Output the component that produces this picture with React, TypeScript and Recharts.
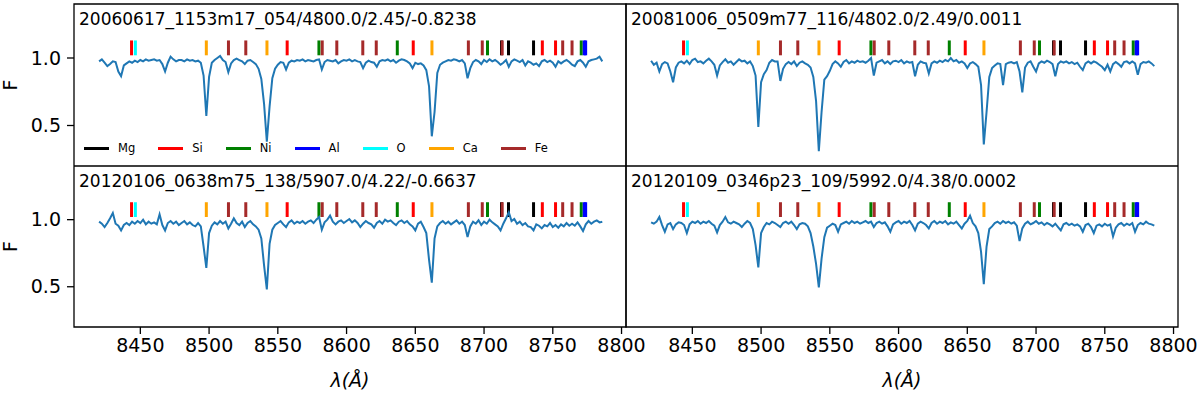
import React from 'react';
import { LineChart, Line, XAxis, YAxis, ReferenceLine, ReferenceArea, Legend, Label } from 'recharts';

// spectra are sampled on a regular grid: 8420 ... 8786 Å, 2 Å step
const waveStart = 8420;
const waveStep = 2;

// 20060617_1153m17_054
const fluxTopLeft = [
  0.975, 0.99, 0.965, 0.94, 0.955, 0.975, 0.97, 0.9, 0.865, 0.945,
  0.96, 0.975, 0.965, 0.98, 0.97, 0.985, 0.975, 0.99, 0.98, 0.985,
  0.99, 0.98, 0.985, 0.955, 0.9, 0.965, 1.01, 0.99, 0.975, 0.985,
  0.985, 0.975, 0.99, 0.98, 0.985, 0.975, 0.98, 0.965, 0.87, 0.57,
  0.86, 0.965, 0.985, 1.0, 1.015, 0.985, 0.97, 0.895, 0.96, 0.985,
  0.995, 0.985, 0.975, 0.955, 0.98, 0.985, 0.97, 0.955, 0.92, 0.845,
  0.66, 0.38, 0.64, 0.85, 0.92, 0.95, 0.97, 0.965, 0.915, 0.965,
  0.98, 0.975, 0.985, 0.98, 0.99, 0.975, 0.985, 0.98, 0.975, 0.985,
  0.99, 0.915, 0.97, 0.985, 0.98, 0.975, 0.985, 0.96, 0.975, 0.985,
  0.98, 0.99, 0.975, 0.985, 0.975, 0.97, 0.925, 0.965, 0.98, 0.97,
  0.965, 0.935, 0.975, 0.985, 0.98, 0.99, 0.975, 0.985, 0.965, 0.98,
  0.99, 0.985, 0.975, 0.96, 0.925, 0.965, 0.955, 0.96, 0.945, 0.91,
  0.79, 0.42, 0.6, 0.89, 0.95, 0.965, 0.975, 0.985, 0.98, 0.99,
  0.985, 0.975, 0.985, 0.96, 0.85, 0.925, 0.97, 0.985, 0.975, 0.955,
  0.985, 0.97, 0.99, 0.975, 0.985, 0.97, 0.95, 0.965, 0.985, 0.935,
  0.975, 0.99, 0.98, 0.97, 0.985, 0.945, 0.975, 0.965, 0.95, 0.96,
  0.94, 0.975, 0.985, 0.97, 0.98, 0.965, 0.935, 0.975, 0.96, 0.975,
  0.985, 0.97, 0.95, 0.94, 0.975, 0.985, 0.965, 0.935, 0.975, 0.985,
  0.99, 0.995, 1.01, 0.975,
];

// 20081006_0509m77_116
const fluxTopRight = [
  0.98, 0.95, 0.965, 0.9, 0.955, 0.97, 0.96, 0.9, 0.82, 0.93,
  0.965, 0.975, 0.96, 0.98, 0.955, 0.985, 0.995, 0.97, 0.975, 0.96,
  0.98, 0.995, 0.975, 0.95, 0.87, 0.945, 0.97, 0.99, 0.965, 0.975,
  0.95, 0.97, 0.99, 0.975, 0.98, 0.96, 0.975, 0.94, 0.87, 0.49,
  0.82, 0.88, 0.91, 0.965, 0.985, 0.975, 0.975, 0.83, 0.92, 0.955,
  0.97, 0.955, 0.975, 0.94, 0.965, 0.975, 0.96, 0.95, 0.93, 0.86,
  0.68, 0.31, 0.6, 0.84, 0.865, 0.905, 0.955, 0.975, 0.96, 0.935,
  0.97, 0.985, 0.96, 0.975, 0.965, 0.98, 0.97, 0.975, 0.965, 0.98,
  1.0, 0.87, 0.965, 0.975, 0.985, 0.96, 0.975, 0.955, 0.975, 0.98,
  0.97, 0.985, 0.96, 0.975, 0.965, 0.97, 0.865, 0.95, 0.975, 0.965,
  0.96, 0.885, 0.96, 0.975, 0.965, 0.98, 0.97, 0.985, 0.975, 1.0,
  0.975, 0.985, 0.965, 0.975, 0.96, 0.925, 0.96, 0.97, 0.955, 0.935,
  0.8, 0.36, 0.6, 0.86, 0.925, 0.945, 0.96, 0.955, 0.8, 0.955,
  0.965, 0.97, 0.96, 0.97, 0.9, 0.745, 0.93, 0.965, 0.975, 0.935,
  0.9, 0.96, 0.975, 0.965, 0.98, 0.97, 0.955, 0.865, 0.955, 0.975,
  0.965, 0.975, 0.96, 0.97, 0.955, 0.965, 0.935, 0.91, 0.96, 0.975,
  0.96, 0.975, 0.965, 0.95, 0.935, 0.91, 0.95, 0.9, 0.955, 0.97,
  0.955, 0.935, 0.97, 0.975, 0.96, 0.975, 0.96, 0.875, 0.955, 0.97,
  0.965, 0.975, 0.96, 0.94,
];

// 20120106_0638m75_138
const fluxBottomLeft = [
  0.985, 0.97, 0.945, 0.975, 1.01, 1.05, 0.97, 0.955, 0.92, 0.96,
  0.975, 0.96, 0.985, 0.97, 0.99, 0.975, 1.0, 0.965, 0.985, 0.97,
  0.98, 0.965, 1.04, 0.96, 0.92, 0.975, 0.99, 0.97, 0.985, 0.96,
  0.975, 0.99, 0.965, 0.98, 0.96, 0.95, 0.975, 0.95, 0.8, 0.64,
  0.9, 0.955, 0.98, 0.965, 0.99, 0.97, 0.985, 0.935, 0.97, 1.01,
  0.975, 0.96, 0.985, 0.945, 0.975, 0.99, 0.965, 0.95, 0.925, 0.86,
  0.66, 0.48, 0.82, 0.925, 0.96, 0.975, 0.99, 0.965, 0.945, 0.98,
  0.995, 0.97, 0.985, 0.975, 0.99, 0.97, 0.985, 0.995, 0.975, 1.0,
  1.02, 0.925, 0.98, 1.0, 1.03, 0.985, 0.965, 0.985, 0.995, 0.975,
  0.99, 1.005, 0.98, 0.995, 0.975, 0.945, 0.97, 0.99, 0.975, 0.965,
  0.94, 0.975, 0.99, 0.97, 1.0, 0.985, 0.995, 0.975, 0.96, 0.985,
  0.995, 0.975, 0.99, 0.965, 0.95, 0.92, 0.97, 0.985, 0.945, 0.9,
  0.7, 0.53, 0.86, 0.95, 0.975, 0.99, 0.97, 0.985, 0.965, 0.98,
  0.995, 0.97, 0.985, 0.96, 0.87, 0.95, 0.985, 0.97, 0.995, 0.96,
  0.985, 0.97, 1.0, 0.98, 0.965, 0.95, 0.92, 0.97, 1.01, 1.055,
  0.99, 1.005, 0.97, 0.985, 0.96, 0.975, 0.95, 0.945, 0.92, 0.965,
  0.955, 0.935, 0.96, 0.95, 0.975, 0.945, 0.96, 0.94, 0.965, 0.95,
  0.975, 0.955, 0.97, 0.955, 0.98, 0.95, 0.915, 0.965, 0.99, 0.97,
  0.985, 0.995, 0.98, 0.985,
];

// 20120109_0346p23_109
const fluxBottomRight = [
  0.98, 0.97, 0.985, 1.02, 0.96, 0.91, 0.965, 0.975, 0.93, 0.965,
  0.98, 0.975, 0.96, 0.9, 0.965, 0.985, 0.975, 0.99, 0.97, 0.985,
  0.975, 0.99, 0.97, 0.955, 0.905, 0.96, 0.985, 1.02, 0.98, 0.97,
  0.985, 0.975, 0.965, 0.945, 0.97, 0.99, 0.975, 0.93, 0.81, 0.645,
  0.9, 0.945, 0.975, 0.965, 0.985, 0.975, 0.96, 0.945, 0.975, 0.985,
  0.97, 0.985, 0.96, 0.93, 0.965, 0.975, 0.97, 0.95, 0.9, 0.8,
  0.67, 0.495, 0.71, 0.87, 0.94, 0.955, 0.97, 0.96, 0.91, 0.965,
  0.975, 0.985, 0.97, 0.99, 0.975, 0.985, 0.97, 0.98, 0.99, 0.975,
  0.985, 0.945, 0.975, 0.985, 0.97, 0.98, 0.95, 0.91, 0.965, 0.98,
  0.99, 0.97, 0.985, 0.975, 0.99, 0.96, 0.92, 0.97, 0.985, 0.975,
  0.96, 0.935, 0.975, 0.99, 0.97, 0.985, 0.975, 0.99, 0.965, 0.98,
  0.97, 0.985, 0.96, 0.935, 0.97, 0.99, 1.03, 0.975, 0.95, 0.9,
  0.76, 0.52, 0.8, 0.93, 0.95, 0.975, 0.985, 0.97, 0.99, 0.975,
  0.985, 0.97, 0.98, 0.955, 0.84, 0.935, 0.97, 0.985, 0.965, 0.975,
  0.99, 0.97, 0.98, 0.96, 0.975, 0.965, 0.95, 0.97, 0.945, 0.92,
  0.965, 0.975, 0.96, 0.97, 0.955, 0.965, 0.95, 0.91, 0.96, 0.97,
  0.945, 0.9, 0.955, 0.965, 0.95, 0.97, 0.955, 0.965, 0.875, 0.94,
  0.965, 0.975, 0.955, 0.97, 0.96, 0.975, 0.91, 0.96, 0.975, 0.965,
  0.985, 0.97, 0.965, 0.955,
];

const panelTitles = [
  '20060617_1153m17_054/4800.0/2.45/-0.8238',
  '20081006_0509m77_116/4802.0/2.49/0.0011',
  '20120106_0638m75_138/5907.0/4.22/-0.6637',
  '20120109_0346p23_109/5992.0/4.38/0.0002',
];

// line lists (Å)
const mgLines = [8712.7, 8717.8, 8736.0];
const siLines = [8443.6, 8556.8, 8648.5, 8742.4, 8752.0];
const niLines = [8579.9, 8636.9, 8702.5, 8770.7];
const alLines = [8772.9, 8773.9];
const oLines = [8446.4];
const caLines = [8498.0, 8542.1, 8662.1];
const feLines = [8514.1, 8526.7, 8582.3, 8592.9, 8611.8, 8621.6, 8688.6, 8698.7, 8713.2, 8757.2, 8764.0];

const xTicks = [8450, 8500, 8550, 8600, 8650, 8700, 8750, 8800];
const yTicks = [0.5, 1.0];
const xDomain: [number, number] = [8401.75, 8803.25];
const yDomain: [number, number] = [0.2, 1.4];
const markLow = 1.02;
const markHigh = 1.13;

const elements = [
  { name: 'Mg', color: '#000000', lines: mgLines },
  { name: 'Si', color: '#ff0000', lines: siLines },
  { name: 'Ni', color: '#008000', lines: niLines },
  { name: 'Al', color: '#0000ff', lines: alLines },
  { name: 'O', color: '#00ffff', lines: oLines },
  { name: 'Ca', color: '#ffa500', lines: caLines },
  { name: 'Fe', color: '#a52a2a', lines: feLines },
];

const FONT = 'DejaVu Sans';
const AXIS_W = 74;
const PLOT_W = 552;
const RIGHT_PAD = 30;

const toRows = (flux: number[]) => flux.map((f, i) => ({ wave: waveStart + i * waveStep, flux: f }));

const YLabel = (props: any) => {
  const vb = props.viewBox || { x: 0, y: 0, height: 160 };
  const cx = vb.x + 10;
  const cy = vb.y + vb.height / 2;
  return (
    <text x={cx} y={cy} transform={`rotate(-90 ${cx} ${cy})`} textAnchor="middle" dominantBaseline="central"
      fontSize={19} fontFamily={FONT} fill="#000">F</text>
  );
};

const XLabel = (props: any) => {
  const vb = props.viewBox || { x: 0, y: 0, width: PLOT_W };
  const cx = vb.x + vb.width / 2;
  return (
    <text x={cx} y={vb.y + 60} textAnchor="middle" fontSize={19} fontFamily={FONT} fontStyle="italic" fill="#000">
      λ(Å)
    </text>
  );
};

const LegendBox = () => (
  <div style={{ display: 'flex', alignItems: 'center', fontFamily: FONT, fontSize: 11.5, lineHeight: '16px', color: '#000' }}>
    {elements.map((el) => (
      <div key={el.name} style={{ display: 'flex', alignItems: 'center', marginRight: 23 }}>
        <span style={{ display: 'inline-block', width: 25, height: 3, background: el.color, marginRight: 9 }} />
        <span>{el.name}</span>
      </div>
    ))}
  </div>
);

interface PanelProps {
  flux: number[];
  title: string;
  left: number;
  top: number;
  bottomRow: boolean;
  leftCol: boolean;
  legend?: boolean;
}

function Panel({ flux, title, left, top, bottomRow, leftCol, legend }: PanelProps) {
  const plotTop = bottomRow ? 0 : 4;
  const plotH = bottomRow ? 161 : 162;
  const xAxisH = bottomRow ? 66 : 0;
  const height = plotTop + plotH + xAxisH;
  const width = AXIS_W + PLOT_W + RIGHT_PAD;
  return (
    <div style={{ position: 'absolute', left, top, width, height }}>
      <LineChart width={width} height={height} data={toRows(flux)}
        margin={{ top: plotTop, right: RIGHT_PAD, bottom: 0, left: 0 }}>
        <XAxis type="number" dataKey="wave" domain={xDomain} ticks={xTicks} allowDataOverflow
          hide={!bottomRow} height={xAxisH || 1} axisLine={false} tickSize={7} tickMargin={5}
          tickLine={{ stroke: '#000', strokeWidth: 1.3 }}
          tick={{ fill: '#000', fontSize: 19, fontFamily: FONT }}>
          <Label content={<XLabel />} />
        </XAxis>
        <YAxis type="number" domain={yDomain} ticks={yTicks} allowDataOverflow width={AXIS_W}
          axisLine={false} tickSize={7} tickMargin={6} tickFormatter={(v: number) => v.toFixed(1)}
          tickLine={{ stroke: '#000', strokeWidth: 1.3 }}
          tick={leftCol ? { fill: '#000', fontSize: 19, fontFamily: FONT } : false}>
          {leftCol && <Label content={<YLabel />} />}
        </YAxis>
        <ReferenceArea x1={xDomain[0]} x2={xDomain[1]} y1={yDomain[0]} y2={yDomain[1]}
          fill="none" fillOpacity={0} stroke="#000" strokeWidth={1.3} ifOverflow="visible" />
        {elements.map((el) =>
          el.lines.map((w) => (
            <ReferenceLine key={`${el.name}-${w}`} segment={[{ x: w, y: markLow }, { x: w, y: markHigh }]}
              stroke={el.color} strokeWidth={3} ifOverflow="visible" />
          ))
        )}
        <Line type="linear" dataKey="flux" stroke="#1f77b4" strokeWidth={2} dot={false}
          activeDot={false} isAnimationActive={false} />
        {legend && (
          <Legend layout="horizontal" verticalAlign="middle" align="center" content={<LegendBox />}
            wrapperStyle={{ left: 84, top: 140, width: 'auto' }} />
        )}
      </LineChart>
      <div style={{ position: 'absolute', left: AXIS_W + 5, top: plotTop + 6, fontFamily: FONT, fontSize: 17,
        lineHeight: '18px', color: '#000', whiteSpace: 'nowrap' }}>
        {title}
      </div>
    </div>
  );
}

export default function App() {
  return (
    <div style={{ position: 'absolute', left: 0, top: 0, width: 1200, height: 393, background: '#fff', overflow: 'hidden' }}>
      <Panel flux={fluxTopLeft} title={panelTitles[0]} left={0} top={0} bottomRow={false} leftCol legend />
      <Panel flux={fluxTopRight} title={panelTitles[1]} left={PLOT_W} top={0} bottomRow={false} leftCol={false} />
      <Panel flux={fluxBottomLeft} title={panelTitles[2]} left={0} top={166} bottomRow leftCol />
      <Panel flux={fluxBottomRight} title={panelTitles[3]} left={PLOT_W} top={166} bottomRow leftCol={false} />
    </div>
  );
}
